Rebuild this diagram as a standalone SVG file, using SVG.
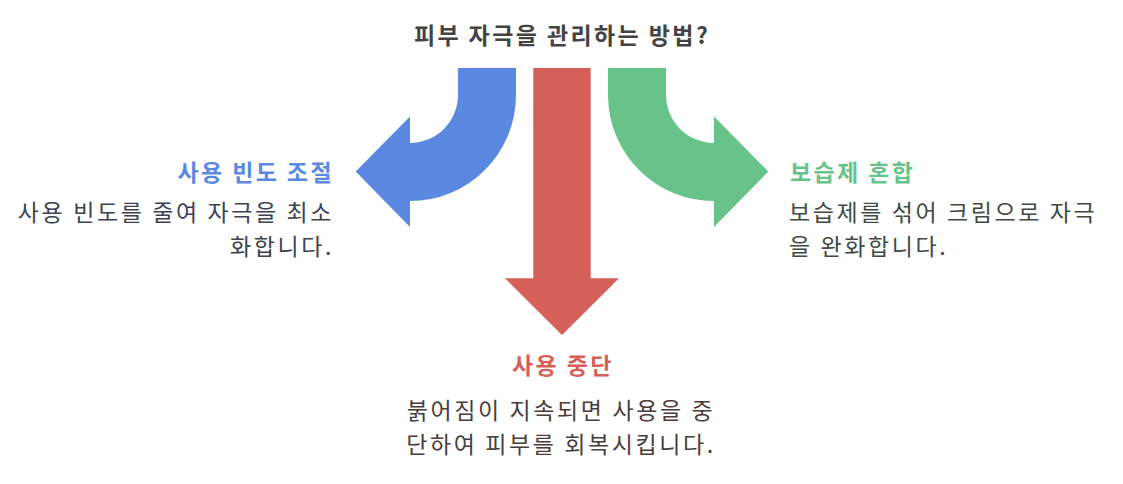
<svg xmlns="http://www.w3.org/2000/svg" width="1123" height="484" viewBox="0 0 1123 484">
<style>
text{font-family:"Noto Sans CJK KR","Noto Sans",sans-serif}
.t{font-size:23px;font-weight:bold;letter-spacing:2.4px}
.b{font-size:23px;letter-spacing:2.6px}
</style>
<rect width="1123" height="484" fill="#ffffff"/>
<g id="connectors">
<path id="arrow-blue" fill="#5b89e1" d="M458,68 L516,68 L516,95 A106,106 0 0 1 410,201 L410,227 L355.7,171.5 L410,116.5 L410,143 A48,48 0 0 0 458,95 Z"/>
<path id="arrow-red" fill="#d5605a" d="M533.3,68 L590.7,68 L590.7,278.3 L619,278.3 L562,335 L505,278.3 L533.3,278.3 Z"/>
<path id="arrow-green" fill="#67c389" d="M666,68 L608,68 L608,95 A106,106 0 0 0 714,201 L714,227 L768.3,171.5 L714,116.5 L714,143 A48,48 0 0 1 666,95 Z"/>
</g>
<g id="title"><text class="t" x="562" y="44" text-anchor="middle" fill="#434343">피부 자극을 관리하는 방법?</text></g>
<g id="node-left">
<text class="t" x="334" y="181" text-anchor="end" fill="#5b89e1">사용 빈도 조절</text>
<text class="b" text-anchor="end" fill="#3c4250"><tspan x="334" y="221">사용 빈도를 줄여 자극을 최소</tspan><tspan x="334" y="255">화합니다.</tspan></text>
</g>
<g id="node-right">
<text class="t" x="790" y="181" fill="#67c389">보습제 혼합</text>
<text class="b" fill="#3e4a43"><tspan x="789" y="221">보습제를 섞어 크림으로 자극</tspan><tspan x="789" y="255">을 완화합니다.</tspan></text>
</g>
<g id="node-bottom">
<text class="t" x="563" y="374" text-anchor="middle" fill="#d5605a">사용 중단</text>
<text class="b" text-anchor="middle" fill="#4a3c3c"><tspan x="561" y="419">붉어짐이 지속되면 사용을 중</tspan><tspan x="561" y="453">단하여 피부를 회복시킵니다.</tspan></text>
</g>
</svg>
